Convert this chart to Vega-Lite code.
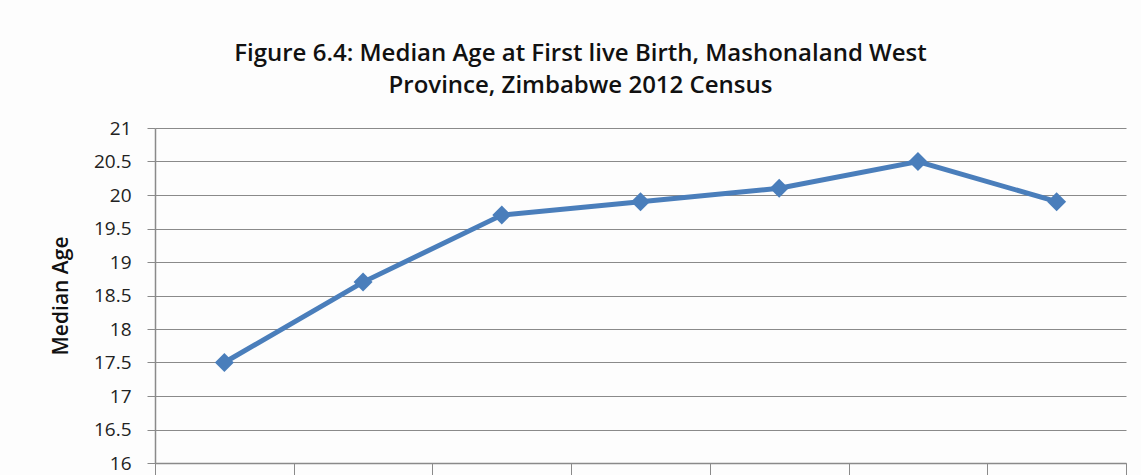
{
  "$schema": "https://vega.github.io/schema/vega-lite/v6.json",
  "autosize": {"type": "none"},
  "width": 971,
  "height": 335,
  "padding": {"left": 155, "top": 128, "right": 15, "bottom": 12},
  "background": "#fdfdfd",
  "title": {
    "text": ["Figure 6.4: Median Age at First live Birth, Mashonaland West", "Province, Zimbabwe 2012 Census"],
    "font": "Open Sans",
    "fontSize": 24,
    "fontWeight": 600,
    "color": "#111111",
    "lineHeight": 32,
    "anchor": "middle",
    "frame": "group",
    "dx": -60,
    "offset": 21
  },
  "data": {
    "values": [
      {"group": "20-24", "age": 17.5},
      {"group": "25-29", "age": 18.7},
      {"group": "30-34", "age": 19.7},
      {"group": "35-39", "age": 19.9},
      {"group": "40-44", "age": 20.1},
      {"group": "45-49", "age": 20.5},
      {"group": "50+", "age": 19.9}
    ]
  },
  "config": {
    "view": {"stroke": null},
    "axis": {
      "labelFont": "Open Sans",
      "titleFont": "Open Sans",
      "domainColor": "#8a8a8a",
      "tickColor": "#8a8a8a",
      "gridColor": "#8a8a8a"
    }
  },
  "encoding": {
    "x": {
      "field": "group",
      "type": "nominal",
      "sort": null,
      "scale": {"paddingInner": 0, "paddingOuter": 0},
      "axis": {
        "title": null,
        "labels": false,
        "tickBand": "extent",
        "tickSize": 12,
        "grid": false,
        "domainWidth": 1.5
      }
    },
    "y": {
      "field": "age",
      "type": "quantitative",
      "scale": {"domain": [16, 21], "zero": false, "nice": false},
      "axis": {
        "title": "Median Age",
        "titleFontSize": 21,
        "titleFontWeight": 600,
        "titleColor": "#111111",
        "titlePadding": 22,
        "values": [16, 16.5, 17, 17.5, 18, 18.5, 19, 19.5, 20, 20.5, 21],
        "format": ".3~r",
        "labelFontSize": 19,
        "labelColor": "#222222",
        "labelPadding": 16,
        "tickSize": 8,
        "grid": true,
        "gridWidth": 1.2,
        "domainWidth": 1.5
      }
    }
  },
  "layer": [
    {
      "mark": {"type": "line", "color": "#4a7ebb", "strokeWidth": 5}
    },
    {
      "mark": {"type": "point", "shape": "diamond", "filled": true, "color": "#4a7ebb", "opacity": 1, "size": 360}
    }
  ]
}
